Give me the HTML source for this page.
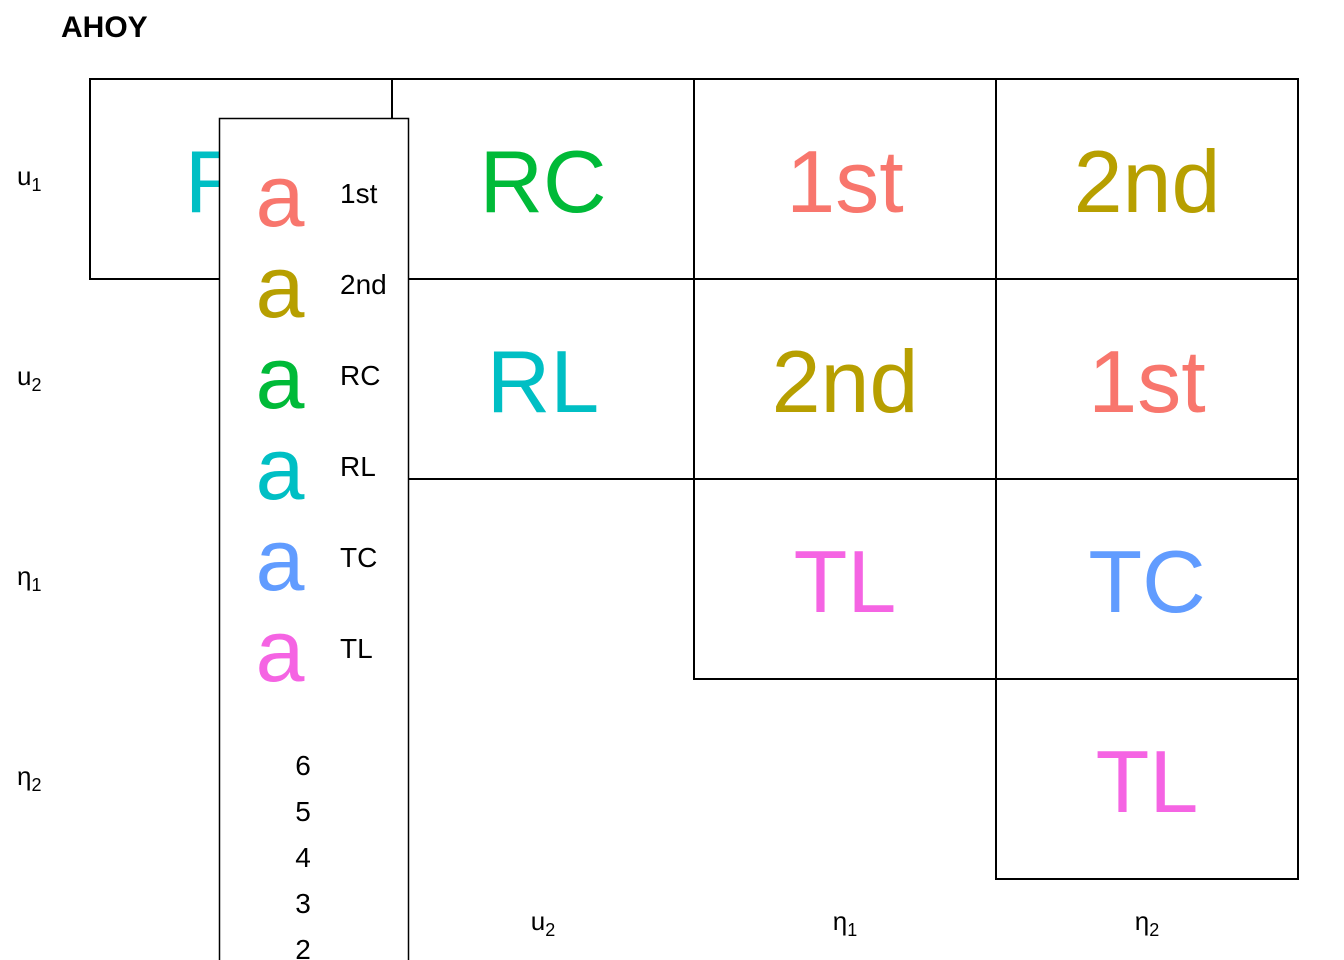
<!DOCTYPE html>
<html><head><meta charset="utf-8">
<style>
body{margin:0;background:#fff;width:1344px;height:960px;overflow:hidden;font-family:"Liberation Sans",sans-serif}
svg{display:block}
</style></head><body>
<svg id="chart" width="1344" height="960" xmlns="http://www.w3.org/2000/svg" font-family="Liberation Sans, sans-serif" style="overflow:hidden">
<text x="61" y="37" font-size="30" font-weight="bold">AHOY</text>
<g id="cells"></g>
<g id="axes"></g>
<g id="legend"></g>
</svg>
<script>
const rowLabels=["u","u","η","η"];
const rowSubs=["1","2","1","2"];
const colLabels=["u","u","η","η"];
const colSubs=["1","2","1","2"];
const cellRows=[0,0,0,0,1,1,1,2,2,3];
const cellCols=[0,1,2,3,1,2,3,2,3,3];
const cellTexts=["RL","RC","1st","2nd","RL","2nd","1st","TL","TC","TL"];
const legendKeys=["1st","2nd","RC","RL","TC","TL"];
const legendColors=["#F8766D","#B79F00","#00BA38","#00BFC4","#619CFF","#F564E3"];
const sizeTicks=["6","5","4","3","2"];
const NS="http://www.w3.org/2000/svg";
const x0=90,cw=302,y0=79,ch=200;
const colX=i=>x0+i*cw, rowY=i=>y0+i*ch;
function mk(t,a,p){const e=document.createElementNS(NS,t);for(const k in a)e.setAttribute(k,a[k]);p.appendChild(e);return e;}
const color=t=>legendColors[legendKeys.indexOf(t)];
const cg=document.getElementById('cells');
cellTexts.forEach((t,i)=>{
  const g=mk('g',{},cg);
  
  
  mk('rect',{x:colX(cellCols[i]),y:rowY(cellRows[i]),width:cw,height:ch,fill:'none',stroke:'#000','stroke-width':2},g);
  const tx=mk('text',{x:colX(cellCols[i])+cw/2,y:rowY(cellRows[i])+ch/2+33,'text-anchor':'middle','font-size':88,fill:color(t)},g);
  tx.textContent=t;
});
const ag=document.getElementById('axes');
rowLabels.forEach((l,i)=>{
  const t=mk('text',{x:17,y:rowY(i)+ch/2+6,'font-size':26},ag);
  
  
  t.textContent=l;
  const s=mk('tspan',{'font-size':18,dy:6},t);s.textContent=rowSubs[i];
});
colLabels.forEach((l,i)=>{
  const t=mk('text',{x:colX(i)+cw/2,y:930,'font-size':26,'text-anchor':'middle'},ag);
  
  
  t.textContent=l;
  const s=mk('tspan',{'font-size':18,dy:6},t);s.textContent=colSubs[i];
});
const lg=document.getElementById('legend');
const box=mk('rect',{x:219.5,y:118.5,width:189,height:880,fill:'#fff',stroke:'#000','stroke-width':1.5},lg);


legendKeys.forEach((k,i)=>{
  const g=mk('g',{},lg);
  
  
  const y=193+i*91;
  const a=mk('text',{x:280,y:y+33,'font-size':88,'text-anchor':'middle',fill:legendColors[i]},g);a.textContent='a';
  const l=mk('text',{x:340,y:y+10,'font-size':28},g);l.textContent=k;
});
sizeTicks.forEach((s,i)=>{
  const t=mk('text',{x:303,y:775+i*46,'font-size':28,'text-anchor':'middle'},lg);
  
  
  t.textContent=s;
});
</script>
</body></html>
